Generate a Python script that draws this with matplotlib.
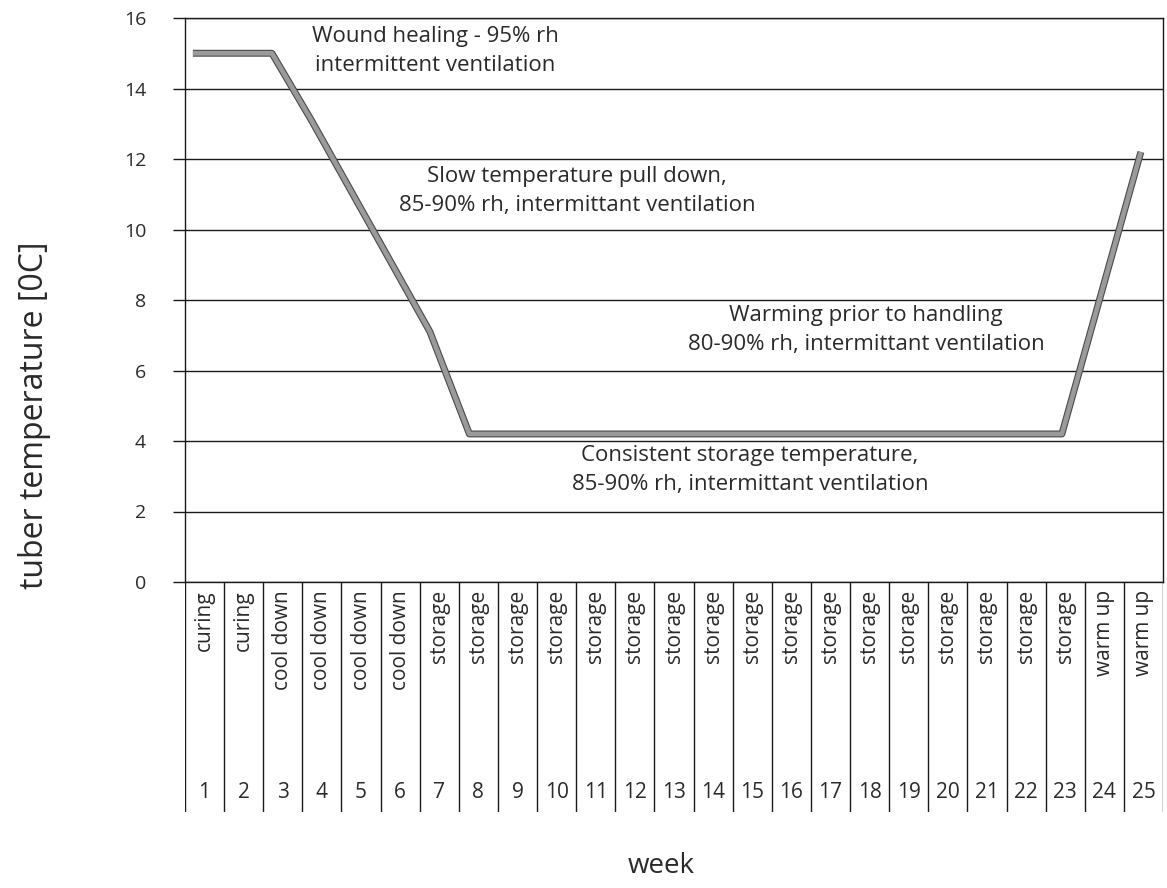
import numpy as np
import matplotlib
matplotlib.use("Agg")
import matplotlib.pyplot as plt
import matplotlib.patheffects as pe

plt.rcParams['font.family'] = ['Open Sans', 'DejaVu Sans']

# data
weeks = list(range(1, 26))
stages = ["curing", "curing", "cool down", "cool down", "cool down", "cool down",
          "storage", "storage", "storage", "storage", "storage", "storage", "storage",
          "storage", "storage", "storage", "storage", "storage", "storage", "storage",
          "storage", "storage", "storage", "warm up", "warm up"]
temps = [15.0, 15.0, 15.0, 13.1, 11.1, 9.1, 7.1, 4.2, 4.2, 4.2, 4.2, 4.2, 4.2,
         4.2, 4.2, 4.2, 4.2, 4.2, 4.2, 4.2, 4.2, 4.2, 4.2, 8.2, 12.2]
yticks = list(range(0, 17, 2))

notes = [
    ("Wound healing - 95% rh\nintermittent ventilation", 435, 51),
    ("Slow temperature pull down,\n85-90% rh, intermittant ventilation", 577, 191),
    ("Warming prior to handling\n80-90% rh, intermittant ventilation", 866, 330),
    ("Consistent storage temperature,\n85-90% rh, intermittant ventilation", 750, 470),
]

W, H = 1167, 888
fig = plt.figure(figsize=(W / 100, H / 100), dpi=100)
txt = '#2a2a2a'
ink = '#1a1a1a'

x0, x1 = 185, 1163
ytop, y0, ytab = 18, 582, 812
ax = fig.add_axes([x0 / W, 1 - y0 / H, (x1 - x0) / W, (y0 - ytop) / H])
tab = fig.add_axes([x0 / W, 1 - ytab / H, (x1 - x0) / W, (ytab - y0) / H])

# main plot
ax.plot(weeks, temps, color='#9a9a9a', lw=3.4, solid_capstyle='butt',
        path_effects=[pe.Stroke(linewidth=5, foreground='#4a4a4a'), pe.Normal()],
        zorder=3)
ax.set_xlim(0.8, 25.56)
ax.set_ylim(0, 16)
ax.set_yticks(yticks)
ax.set_xticks([])
ax.yaxis.grid(True, color=ink, lw=1.0)
ax.set_axisbelow(True)
for s in ax.spines.values():
    s.set_color(ink)
    s.set_linewidth(1.0)
ax.tick_params(axis='y', direction='out', length=9, width=1.0, color=ink,
               pad=19, labelsize=14, labelcolor=txt)

for label, px, py in notes:
    fig.text(px / W, 1 - py / H, label, fontsize=16, color=txt,
             ha='center', va='center', linespacing=1.45)

# category table below the axis
tab.set_xlim(0, 25)
tab.set_ylim(0, 1)
tab.axis('off')
for i in range(26):
    tab.axvline(i, color=ink, lw=1.0)
for i, (wk, st) in enumerate(zip(weeks, stages)):
    tab.text(i + 0.5, 0.965, st, rotation=90, ha='center', va='top',
             fontsize=15, color=txt)
    tab.text(i + 0.5, 0.085, str(wk), ha='center', va='center',
             fontsize=15, color=txt)

fig.text(35 / W, 1 - 415 / H, "tuber temperature [0C]", rotation=90,
         ha='center', va='center', fontsize=23, color=txt)
fig.text(661 / W, 1 - 866 / H, "week", ha='center', va='center',
         fontsize=20, color=txt)

fig.savefig("out.png", dpi=100, facecolor='white')
